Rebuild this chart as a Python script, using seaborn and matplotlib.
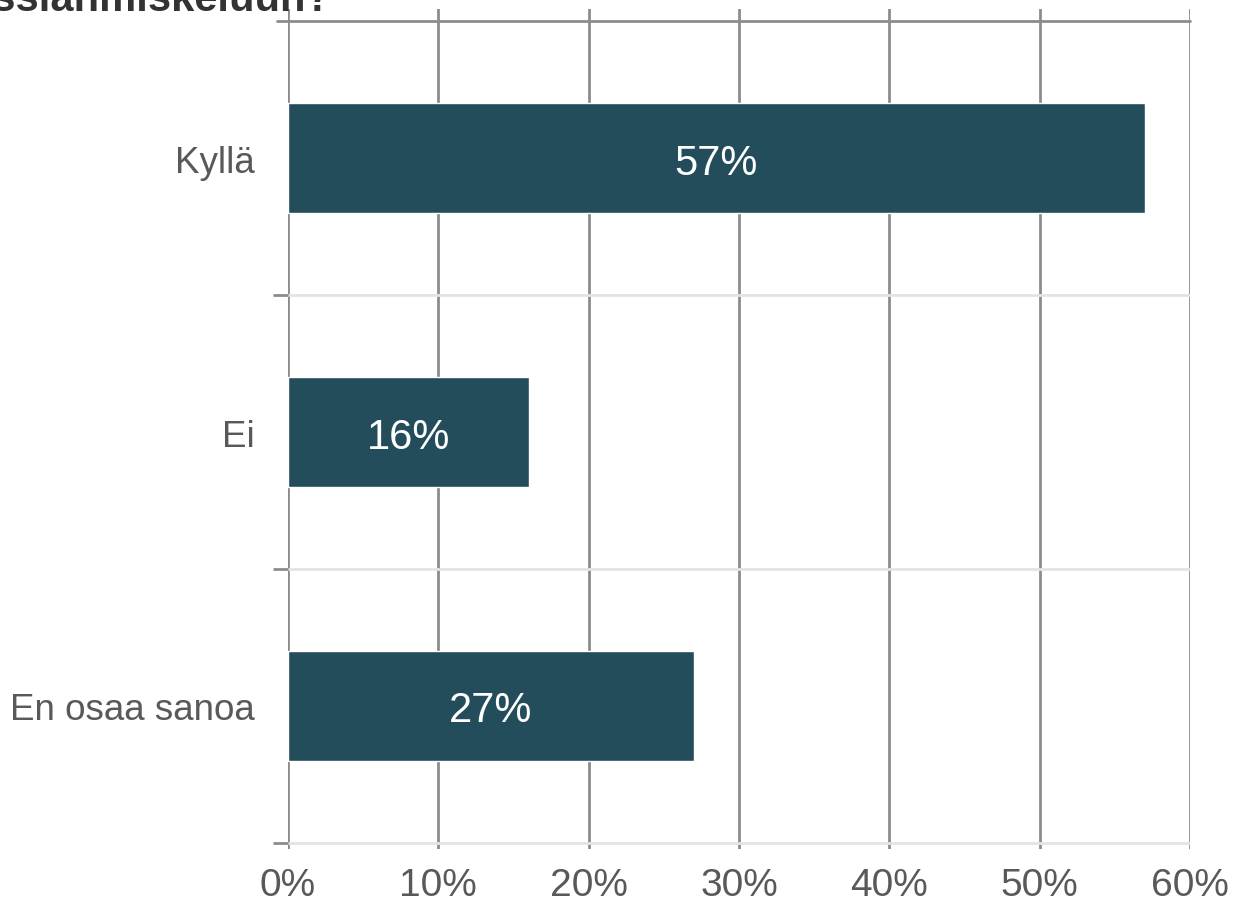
import matplotlib.pyplot as plt
import pandas as pd
import seaborn as sns

categories = ["Kyllä", "Ei", "En osaa sanoa"]
values = [57, 16, 27]
xticks = [0, 10, 20, 30, 40, 50, 60]
title_tail = "assianmiskeluun?"

df = pd.DataFrame({"answer": categories, "share": values})

sns.set_style("white")
plt.rcParams["font.family"] = ["Liberation Sans", "DejaVu Sans"]

fig = plt.figure(figsize=(12.44, 9.04), dpi=100)
ax = fig.add_axes([288 / 1244, 1 - 850 / 904, (1190 - 288) / 1244, 840 / 904])

sns.barplot(data=df, x="share", y="answer", orient="h", color="#244d5b",
            width=0.40, saturation=1, ax=ax)

ax.set_xlim(0, 60)
ax.set_ylim(2.5 + 6 / 274, -0.5 - 12 / 274)
ax.set_xticks(xticks)
ax.set_xticklabels([f"{t}%" for t in xticks])
for t in xticks:
    ax.axvline(t, color="#8c8c8c", lw=2, zorder=0)
ax.axhline(-0.5, xmin=-11 / 902, color="#8c8c8c", lw=2, zorder=0, clip_on=False)
for b in [0.5, 1.5, 2.5]:
    ax.axhline(b, color="#e3e3e3", lw=2, zorder=0)
ax.set_yticks([0.5, 1.5, 2.5], minor=True)
ax.tick_params(axis="y", which="minor", length=11, width=2, color="#8c8c8c", left=True)
ax.tick_params(axis="y", which="major", length=0, pad=24, labelsize=26.5, labelcolor="#595959")
ax.tick_params(axis="x", length=0, pad=13, labelsize=28, labelcolor="#595959")
for s in ax.spines.values():
    s.set_visible(False)
ax.set_xlabel("")
ax.set_ylabel("")

# value labels inside the bars
for i, v in enumerate(values):
    ax.text(v / 2, i, f"{v}%", color="white", fontsize=30, ha="center",
            va="center_baseline")

# title is cropped at the top edge, as in the source image
fig.text(332 / 1244, 1 - 11 / 904, title_tail, ha="right", va="baseline",
         fontsize=30, fontweight="bold", color="#333333")

fig.savefig("out.png", dpi=100)
